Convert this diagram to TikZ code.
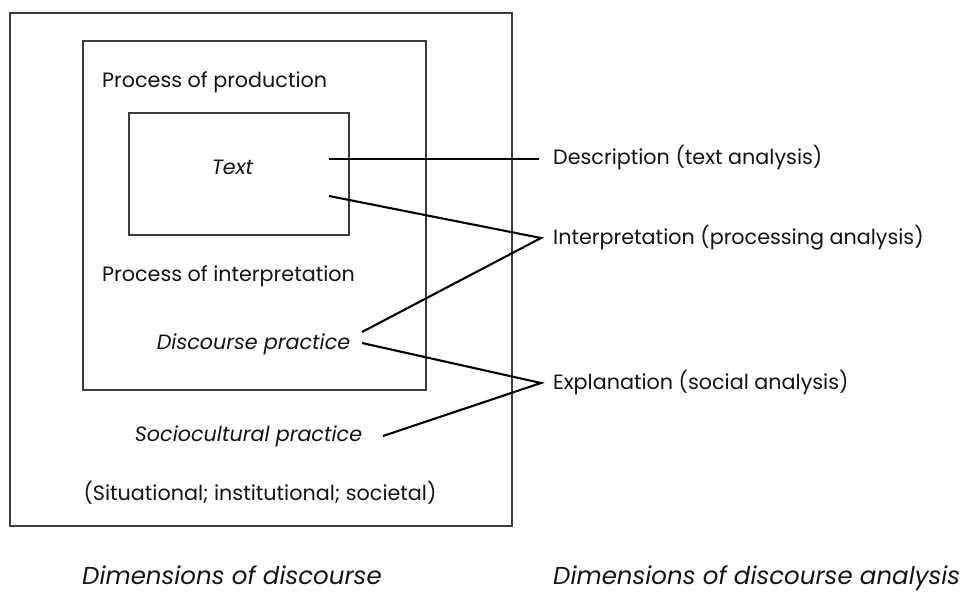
\documentclass[tikz,border=0pt]{standalone}
\usepackage{fontspec}
\setmainfont{Poppins}
\definecolor{boxgray}{HTML}{3C3C3C}
\definecolor{inkc}{HTML}{141414}
\begin{document}
\begin{tikzpicture}[x=1pt,y=-1pt,
  boxline/.style={draw=boxgray, line width=1.2pt},
  conn/.style={draw=black, line width=2.1pt},
  lbl/.style={inner sep=0pt, text=inkc, font=\fontsize{20.7}{23}\selectfont, anchor=base west},
  ilbl/.style={lbl, font=\fontsize{20.7}{23}\selectfont\itshape},
  captionlbl/.style={inner sep=0pt, text=inkc, font=\fontsize{24.5}{27}\selectfont\itshape, anchor=base west},
  rlbl/.style={lbl, anchor=west}
]
\useasboundingbox (0,0) rectangle (968,593);
% boxes
\draw[boxline] (10,13) rectangle (512,526);
\draw[boxline] (83,41) rectangle (426,390);
\draw[boxline] (129,113) rectangle (349,235);
% left texts
\node[lbl] (prod) at (102,88) {Process of production};
\node[ilbl, anchor=base] (text) at (232.5,175) {Text};
\node[lbl] (procint) at (102,282) {Process of interpretation};
\node[ilbl, anchor=base] (dp) at (253.5,349) {Discourse practice};
\node[ilbl, anchor=base] (sp) at (248.5,441) {Sociocultural practice};
\node[lbl, anchor=base] (sit) at (260,500) {(Situational; institutional; societal)};
% right texts
\node[rlbl] (desc) at (553,158) {Description (text analysis)};
\node[rlbl] (interp) at (553,238) {Interpretation (processing analysis)};
\node[rlbl] (explan) at (553,383) {Explanation (social analysis)};
% captions
\node[captionlbl] (dimL) at (82,584) {Dimensions of discourse};
\node[captionlbl] (dimR) at (553,584) {Dimensions of discourse analysis};
% connector start points
\coordinate (t1) at (329,159);
\coordinate (t2) at (329,196);
\coordinate (dpa) at (362,332);
\coordinate (dpb) at (362,343);
\coordinate (spa) at (383,436);
% connectors
\draw[conn] (t1) -- ([xshift=-14pt]desc.west |- t1);
\draw[conn] (t2) -- ([xshift=-12pt]interp.west) -- (dpa);
\draw[conn] (dpb) -- ([xshift=-12pt]explan.west) -- (spa);
\end{tikzpicture}
\end{document}
